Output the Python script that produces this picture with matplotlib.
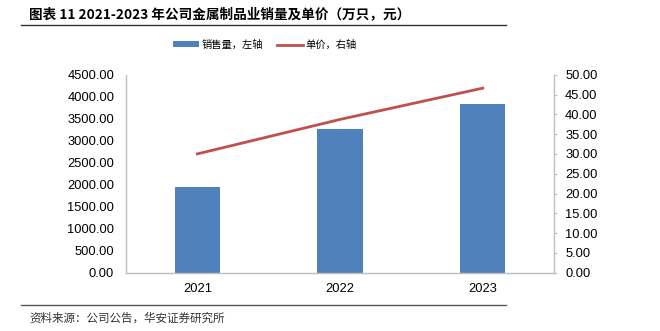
import matplotlib
matplotlib.use("Agg")
import matplotlib.pyplot as plt
from matplotlib.lines import Line2D
from matplotlib.patches import Patch

plt.rcParams['font.family'] = ['Liberation Sans', 'Noto Sans CJK SC', 'DejaVu Sans']

years = ['2021', '2022', '2023']
sales = [1955, 3260, 3835]          # 销售量（万只），左轴
price = [30.0, 38.7, 46.6]          # 单价（元），右轴
left_ticks = [0, 500, 1000, 1500, 2000, 2500, 3000, 3500, 4000, 4500]
right_ticks = [0, 5, 10, 15, 20, 25, 30, 35, 40, 45, 50]

title = '图表 11 2021-2023 年公司金属制品业销量及单价（万只，元）'
source = '资料来源：公司公告，华安证券研究所'
lab_bar = '销售量，左轴'
lab_line = '单价，右轴'

BLUE = '#4F81BD'
RED = '#C0504D'
GRAY = '#BFBFBF'

fig = plt.figure(figsize=(6.6, 3.31), dpi=100)
W, H = 660, 331
ax = fig.add_axes([126 / W, 1 - 272.7 / H, 428 / W, 198 / H])
ax2 = ax.twinx()

x = list(range(len(years)))
ax.bar(x, sales, width=0.32, color=BLUE, zorder=2)
ax.set_xlim(-0.5, len(years) - 0.5)
ax.set_ylim(0, 4500)
ax.set_yticks(left_ticks)
ax.set_yticklabels([f'{v:.2f}' for v in left_ticks])
ax.set_xticks(x)
ax.set_xticklabels(years)

ax2.plot(x, price, color=RED, lw=2, zorder=3)
ax2.set_ylim(0, 50)
ax2.set_yticks(right_ticks)
ax2.set_yticklabels([f'{v:.2f}' for v in right_ticks])

for a in (ax, ax2):
    for s in a.spines.values():
        s.set_visible(False)
ax.spines['left'].set_visible(True)
ax.spines['bottom'].set_visible(True)
ax2.spines['right'].set_visible(True)
for s in (ax.spines['left'], ax.spines['bottom'], ax2.spines['right']):
    s.set_color(GRAY)
    s.set_linewidth(1)

ax.tick_params(axis='y', length=0, pad=8.5, labelsize=9.3, colors='black')
ax.tick_params(axis='x', length=0, pad=7.5, labelsize=9.3, colors='black')
ax2.tick_params(axis='y', length=2.5, direction='out', color=GRAY, pad=5.5,
                labelsize=9.3, labelcolor='black')

# title and rules
fig.text(29 / W, 1 - 15 / H, title, fontsize=9.8, fontweight='bold',
         va='center', ha='left', family=['Noto Sans CJK SC', 'DejaVu Sans'])
fig.add_artist(Line2D([21 / W, 506 / W], [1 - 24.7 / H, 1 - 24.7 / H],
                      color='#333333', lw=1))
fig.add_artist(Line2D([21 / W, 506 / W], [1 - 305 / H, 1 - 305 / H],
                      color='#555555', lw=1))
fig.text(29 / W, 1 - 318 / H, source, fontsize=8.3, color='#333333',
         va='center', ha='left', family=['Noto Sans CJK SC', 'DejaVu Sans'])

handles = [Patch(facecolor=BLUE, edgecolor='none'),
           Line2D([0], [0], color=RED, lw=2)]
leg = fig.legend(handles, [lab_bar, lab_line], loc='center',
                 bbox_to_anchor=(265 / W, 1 - 45 / H), ncol=2, frameon=False,
                 prop={'family': 'Noto Sans CJK SC', 'size': 7.4},
                 handlelength=2.5, handleheight=0.5, handletextpad=0.3,
                 columnspacing=1.3)

fig.savefig('out.png', dpi=100)
